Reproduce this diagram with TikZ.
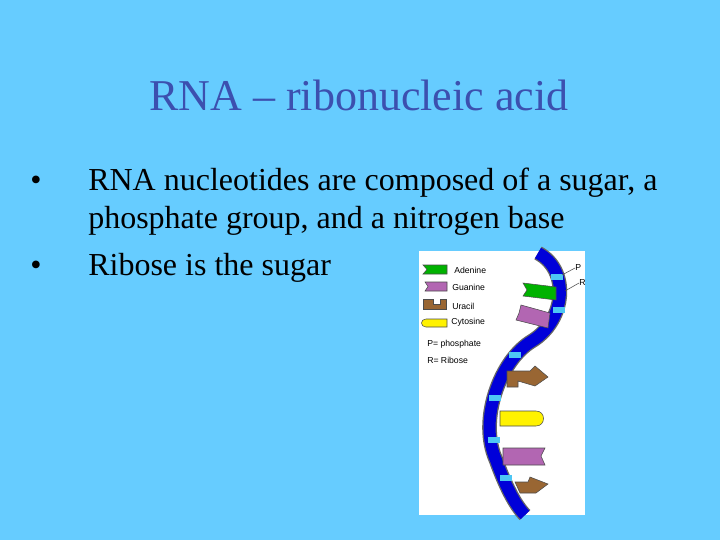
\documentclass[tikz,border=0pt]{standalone}
\usepackage{fontspec}
\setmainfont{Liberation Serif}
\newfontfamily\sans{Liberation Sans}
\begin{document}
\begin{tikzpicture}[x=0.75pt,y=-0.75pt,
  body/.style={font=\fontsize{24}{28}\selectfont,anchor=base west,inner sep=0},
  leg/.style={font=\sans\fontsize{6.5}{7}\selectfont,anchor=west,inner sep=0},
  base/.style={draw=black!70,line width=0.4pt}]
\fill[fill={rgb,255:red,102;green,204;blue,255}] (0,0) rectangle (720,540);
\useasboundingbox (0,0) rectangle (720,540);
\node[font=\fontsize{33}{38}\selectfont,text={rgb,255:red,60;green,80;blue,175}] (title) at (359,95) {RNA -- ribonucleic acid};
\node[body] (b1) at (30,190) {•};
\node[body] (t1) at (88,190) {RNA nucleotides are composed of a sugar, a};
\node[body] (t1b) at (88,228) {phosphate group, and a nitrogen base};
\node[body] (b2) at (30,275) {•};
\node[body] (t2) at (88,275) {Ribose is the sugar};
% image
\fill[white] (419,251) rectangle (585,515);
% strand
\def\strand{(538,253) .. controls (570,270) and (566,320) .. (532,341) .. controls (500,360) and (478,420) .. (496,460) .. controls (505,485) and (515,505) .. (525,515)}
\draw[line width=11pt,black!60] \strand;
\draw[line width=9pt,blue!85!black] \strand;
\foreach \p in {{(557,277)},{(559,310)},{(515,355)},{(495,398)},{(494,440)},{(506,478)}}
  \fill[cyan!70] \p ++(-6,-3) rectangle ++(12,6);
% bases
\filldraw[base,fill=green!70!black] (523,283) -- (556,287) -- (556,300) -- (523,296) -- (527,290) -- cycle;
\filldraw[base,fill=violet!60] (521,305) -- (550,313) -- (548,328) -- (516,320) -- (519,313) -- cycle;
\filldraw[base,fill=brown!80!black] (507,371) -- (530,371) -- (535,366) -- (548,377) -- (535,386) -- (518,381) -- (518,387) -- (507,387) -- cycle;
\filldraw[base,fill=yellow] (500,411) -- (536,411) .. controls (546,411) and (546,426) .. (536,426) -- (500,426) -- cycle;
\filldraw[base,fill=violet!60] (503,448) -- (545,448) -- (541,456) -- (545,465) -- (503,465) -- cycle;
\filldraw[base,fill=brown!80!black] (515,482) -- (528,482) -- (530,477) -- (548,484) -- (536,493) -- (520,493) -- cycle;
% legend
\filldraw[base,fill=green!70!black] (423,265) -- (447,265) -- (447,274) -- (423,274) -- (427,269.5) -- cycle;
\filldraw[base,fill=violet!60] (425,282) -- (447,282) -- (447,291) -- (425,291) -- (428,286.5) -- cycle;
\filldraw[base,fill=brown!80!black] (423,299) -- (433,299) -- (433,304) -- (440,304) -- (440,299) -- (446,299) -- (446,309) -- (423,309) -- cycle;
\filldraw[base,fill=yellow] (426,319) -- (447,319) -- (447,327) -- (426,327) .. controls (420,327) and (420,319) .. (426,319) -- cycle;
\node[leg] (la) at (454,270) {Adenine};
\node[leg] (lg) at (452,287) {Guanine};
\node[leg] (lu) at (452,306) {Uracil};
\node[leg] (lc) at (451,322) {Cytosine};
\node[leg] (lp) at (427,344) {P= phosphate};
\node[leg] (lr) at (427,360) {R= Ribose};
\node[leg] (P) at (575,268) {P};
\node[leg] (R) at (579,283) {R};
\draw[black!70,line width=0.4pt] (P.west) -- (562,275);
\draw[black!70,line width=0.4pt] (R.west) -- (565,291);
\end{tikzpicture}
\end{document}
